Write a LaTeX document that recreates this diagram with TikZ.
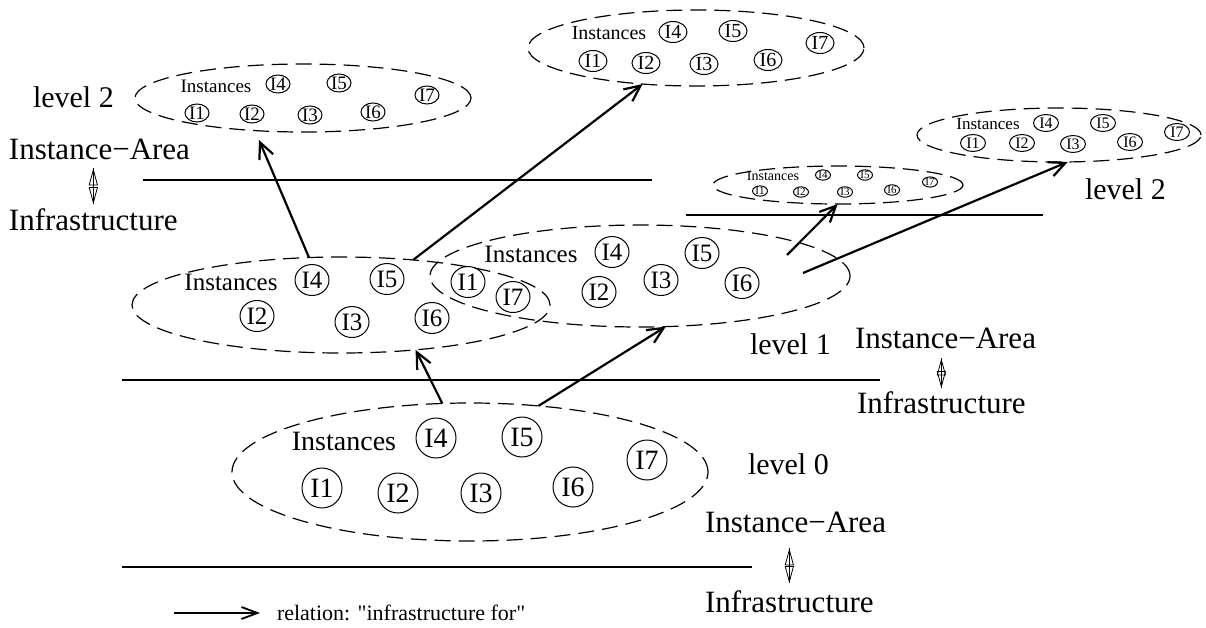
\documentclass[tikz,border=0pt]{standalone}
\usepackage{fontspec}
\setmainfont{Liberation Serif}
\newfontfamily\legfont{Liberation Serif}[Ligatures=ResetAll]
\usetikzlibrary{arrows.meta,shapes.geometric}
\newcommand\fsz[1]{\fontsize{#1}{#1}\selectfont}
\begin{document}
\begin{tikzpicture}[x=1pt,y=-1pt,
  grp/.style={draw, ellipse, dash pattern=on 16pt off 8pt, line width=1.2pt, inner sep=0pt, outer sep=0pt},
  cz/.style={draw, ellipse, line width=1pt, inner sep=0pt, outer sep=0pt},
  c0/.style={cz, minimum width=40pt, minimum height=40pt, font=\fsz{28}},
  c1/.style={cz, minimum width=34pt, minimum height=31pt, font=\fsz{25}},
  cta/.style={cz, minimum width=24pt, minimum height=18pt, font=\fsz{19}},
  ctb/.style={cz, minimum width=28pt, minimum height=21pt, font=\fsz{20}},
  ctc/.style={cz, minimum width=25pt, minimum height=17pt, font=\fsz{16}},
  ctd/.style={cz, minimum width=15pt, minimum height=10pt, font=\fsz{11}},
  txt/.style={inner sep=0pt, outer sep=0pt},
  lbl/.style={inner sep=0pt, outer sep=0pt, anchor=base west, font=\fsz{31}},
  lvl/.style={inner sep=0pt, outer sep=0pt, anchor=base west, font=\fsz{30}},
  arr/.style={line width=2.2pt, -{Straight Barb[length=16pt,width=15pt]}},
  dbl/.style={line width=0.8pt, {Triangle[open,length=17pt,width=9pt]}-{Triangle[open,length=17pt,width=9pt]}},
  dblline/.style={line width=0.8pt},
  sep/.style={line width=1.2pt}
]
\useasboundingbox (0,0) rectangle (1206,627);

% ---------- level 0 ----------
\node[grp, minimum width=476pt, minimum height=138pt] (L0) at (470,472) {};
\node[txt, font=\fsz{28}] (L0t) at (344,441) {Instances};
\node[c0] (L0i4) at (436,438) {I4};
\node[c0] (L0i5) at (522,437) {I5};
\node[c0] (L0i7) at (647,460) {I7};
\node[c0] (L0i1) at (322,488) {I1};
\node[c0] (L0i2) at (398,493) {I2};
\node[c0] (L0i3) at (481,493) {I3};
\node[c0] (L0i6) at (573,487) {I6};

% ---------- level 1 ----------
\node[grp, minimum width=418pt, minimum height=96pt] (L1a) at (341,305) {};
\node[grp, minimum width=420pt, minimum height=102pt] (L1b) at (640,276) {};
\node[txt, font=\fsz{25}] (L1at) at (231,282) {Instances};
\node[c1] (L1ai4) at (312,280) {I4};
\node[c1] (L1ai5) at (387,279) {I5};
\node[c1] (L1ai2) at (257,316) {I2};
\node[c1] (L1ai3) at (352,322) {I3};
\node[c1] (L1ai6) at (432,318) {I6};
\node[txt, font=\fsz{25}] (L1bt) at (531,254) {Instances};
\node[c1] (L1bi4) at (612,252) {I4};
\node[c1] (L1bi5) at (702,253) {I5};
\node[c1] (L1bi2) at (599,292) {I2};
\node[c1] (L1bi3) at (661,280) {I3};
\node[c1] (L1bi6) at (742,283) {I6};
\node[c1] (L1bi1) at (468,282) {I1};
\node[c1] (L1bi7) at (513,297) {I7};

% ---------- level 2, top left ----------
\node[grp, minimum width=336pt, minimum height=68pt] (TL) at (303,98) {};
\node[txt, font=\fsz{19}] (TLt) at (216,86) {Instances};
\node[cta] (TLi4) at (278,84) {I4};
\node[cta] (TLi5) at (339,83) {I5};
\node[cta] (TLi7) at (427,95) {I7};
\node[cta] (TLi1) at (197,113) {I1};
\node[cta] (TLi2) at (252,114) {I2};
\node[cta] (TLi3) at (310,115) {I3};
\node[cta] (TLi6) at (373,112) {I6};

% ---------- level 2, top centre ----------
\node[grp, minimum width=336pt, minimum height=76pt] (TC) at (696,48) {};
\node[txt, font=\fsz{20}] (TCt) at (609,33) {Instances};
\node[ctb] (TCi4) at (673,32) {I4};
\node[ctb] (TCi5) at (733,31) {I5};
\node[ctb] (TCi7) at (820,43) {I7};
\node[ctb] (TCi1) at (593,61) {I1};
\node[ctb] (TCi2) at (646,63) {I2};
\node[ctb] (TCi3) at (704,64) {I3};
\node[ctb] (TCi6) at (768,60) {I6};

% ---------- level 2, right ----------
\node[grp, minimum width=284pt, minimum height=54pt] (RL) at (1059,135) {};
\node[txt, font=\fsz{17}] (RLt) at (988,124) {Instances};
\node[ctc] (RLi4) at (1046,123) {I4};
\node[ctc] (RLi5) at (1103,123) {I5};
\node[ctc] (RLi7) at (1177,132) {I7};
\node[ctc] (RLi1) at (973,143) {I1};
\node[ctc] (RLi2) at (1022,143) {I2};
\node[ctc] (RLi3) at (1073,144) {I3};
\node[ctc] (RLi6) at (1130,142) {I6};

% ---------- level 2, small ----------
\node[grp, minimum width=250pt, minimum height=38pt] (SM) at (838,185) {};
\node[txt, font=\fsz{14}] (SMt) at (773,176) {Instances};
\node[ctd] (SMi4) at (823,175) {I4};
\node[ctd] (SMi5) at (865,175) {I5};
\node[ctd] (SMi7) at (930,182) {I7};
\node[ctd] (SMi1) at (760,191) {I1};
\node[ctd] (SMi2) at (801,192) {I2};
\node[ctd] (SMi3) at (845,192) {I3};
\node[ctd] (SMi6) at (892,190) {I6};

% ---------- separators ----------
\draw[sep] (143,180) -- (652,180);
\draw[sep] (686,215) -- (1043,215);
\draw[sep] (122,380) -- (880,380);
\draw[sep] (122,567) -- (752,567);

% ---------- labels ----------
\node[lvl] (lv2a) at (33,107) {level 2};
\node[lbl] (ia1) at (9,159) {Instance−Area};
\node[lbl] (inf1) at (9,230) {Infrastructure};
\node[lvl] (lv2b) at (1085,199) {level 2};
\node[lvl] (lv1) at (750,354) {level 1};
\node[lbl] (ia2) at (855,348) {Instance−Area};
\node[lbl] (inf2) at (857,413) {Infrastructure};
\node[lvl] (lv0) at (748,474) {level 0};
\node[lbl] (ia3) at (705,532) {Instance−Area};
\node[lbl] (inf3) at (705,612) {Infrastructure};

% double arrows
\draw[dblline, shorten <=9pt, shorten >=4pt] (ia1.south -| inf1.north) -- (inf1.north);
\draw[dbl, shorten <=9pt, shorten >=4pt] (ia1.south -| inf1.north) -- (inf1.north);
\draw[dblline, shorten <=10pt, shorten >=3pt] (ia2.south -| inf2.north) -- (inf2.north);
\draw[dbl, shorten <=10pt, shorten >=3pt] (ia2.south -| inf2.north) -- (inf2.north);
\draw[dblline, shorten <=16pt, shorten >=7pt] (ia3.south -| inf3.north) -- (inf3.north);
\draw[dbl, shorten <=16pt, shorten >=7pt] (ia3.south -| inf3.north) -- (inf3.north);

% ---------- relations ----------
\coordinate (tlTip) at (259,140);
\coordinate (a5s) at (787,255);
\coordinate (a6s) at (803,273);
\draw[arr] (L0.112) -- (L1a.-31);
\draw[arr] (L0.44.6) -- (L1b.-63.7);
\draw[arr] (L1a.124) -- (tlTip);
\draw[arr] (L1a.32) -- (TC.214);
\draw[arr] (a5s) -- (SM.-91);
\draw[arr] (a6s) -- (RL.-72);

% ---------- legend ----------
\node[inner sep=0pt, outer sep=0pt, anchor=base west, font=\legfont\fsz{22}] (lg) at (277,620) {relation: "infrastructure for"};
\coordinate (lgs) at (174,613);
\draw[line width=1.8pt, -{Straight Barb[length=16pt,width=12pt]}, shorten >=17pt] (lgs) -- (lgs -| lg.west);
\end{tikzpicture}
\end{document}
